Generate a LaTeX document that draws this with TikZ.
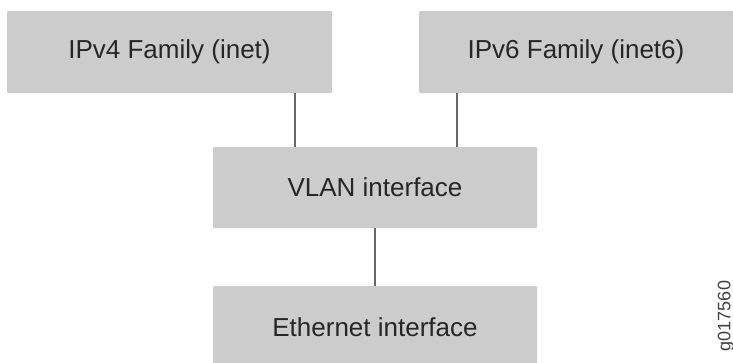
\documentclass[tikz,border=0pt]{standalone}
\usepackage{fontspec}
\setmainfont{Liberation Sans}
\begin{document}
\begin{tikzpicture}[x=1pt,y=-1pt,
  box/.style={fill=boxgray, draw=none, rounded corners=1pt, inner sep=0pt,
    font=\fontsize{26}{30}\selectfont, text=black!85},
  link/.style={draw=black!60, line width=1.5pt}]
\definecolor{boxgray}{HTML}{CCCCCC}
\useasboundingbox (0,0) rectangle (733,362);
\node[box, minimum width=325, minimum height=82] (v4) at (169.5,52) {IPv4 Family (inet)};
\node[box, minimum width=314, minimum height=82] (v6) at (576,52) {IPv6 Family (inet6)};
\node[box, minimum width=324, minimum height=81] (vlan) at (375,187.5) {VLAN interface};
\node[box, minimum width=324, minimum height=82] (eth) at (375,327) {Ethernet interface};
\node[rotate=90, font=\fontsize{18}{20}\selectfont, text=black!75, inner sep=0pt] (id) at (726,316) {g017560};
\draw[link] (v4.south -| 295,0) -- (vlan.north -| 295,0);
\draw[link] (v6.south -| 457,0) -- (vlan.north -| 457,0);
\draw[link] (vlan.south) -- (eth.north);
\end{tikzpicture}
\end{document}
